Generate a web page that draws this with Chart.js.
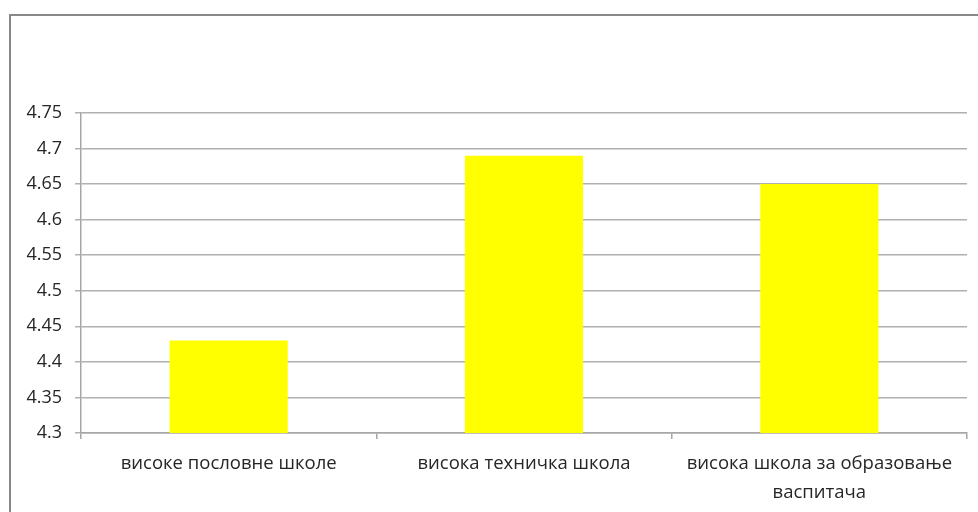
<!DOCTYPE html>
<html>
<head>
<meta charset="utf-8">
<script src="https://cdn.jsdelivr.net/npm/chart.js@4"></script>
<style>
    html, body { margin: 0; padding: 0; background: #fff; overflow: hidden; }
    #frame { position: absolute; left: 9px; top: 14px; width: 1100px; height: 700px; border: 2px solid #888; }
    #wrap { position: absolute; left: 0; top: 0; width: 978px; height: 512px; }
</style>
</head>
<body>
<div id="frame"></div>
<div id="wrap"><canvas id="schoolChart" width="978" height="512"></canvas></div>
<script>
// Подаци
var schoolLabels = ['високе пословне школе', 'висока техничка школа', ['висока школа за образовање', 'васпитача']];
var schoolValues = [4.43, 4.69, 4.65];
var yMin = 4.3;
var yMax = 4.75;
var yStep = 0.05;

var ctx = document.getElementById('schoolChart').getContext('2d');
new Chart(ctx, {
    type: 'bar',
    data: {
        labels: schoolLabels,
        datasets: [{
            data: schoolValues,
            backgroundColor: '#ffff00',
            borderWidth: 0,
            barPercentage: 0.4,
            categoryPercentage: 1
        }]
    },
    options: {
        responsive: false,
        animation: false,
        layout: { padding: { left: 0, top: 113, right: 11, bottom: 0 } },
        plugins: {
            legend: { display: false },
            tooltip: { enabled: false }
        },
        scales: {
            x: {
                offset: true,
                grid: {
                    offset: true,
                    drawOnChartArea: false,
                    color: '#a6a6a6',
                    tickLength: 6,
                    lineWidth: 1.5
                },
                border: { color: '#a6a6a6', width: 1.5 },
                ticks: {
                    color: '#262626',
                    padding: 10,
                    maxRotation: 0,
                    autoSkip: false,
                    font: { family: 'Open Sans', size: 18.5, lineHeight: 1.58 }
                },
                afterFit: function(scale) { scale.height = 79; }
            },
            y: {
                min: yMin,
                max: yMax,
                grid: { color: '#b0b0b0', tickLength: 6, lineWidth: 1.5 },
                border: { color: '#a6a6a6', width: 1.5 },
                ticks: {
                    stepSize: yStep,
                    color: '#262626',
                    padding: 13,
                    font: { family: 'Open Sans', size: 18 },
                    callback: function(value) { return +value.toFixed(2); }
                },
                afterFit: function(scale) { scale.width = 81; }
            }
        }
    }
});
</script>
</body>
</html>
